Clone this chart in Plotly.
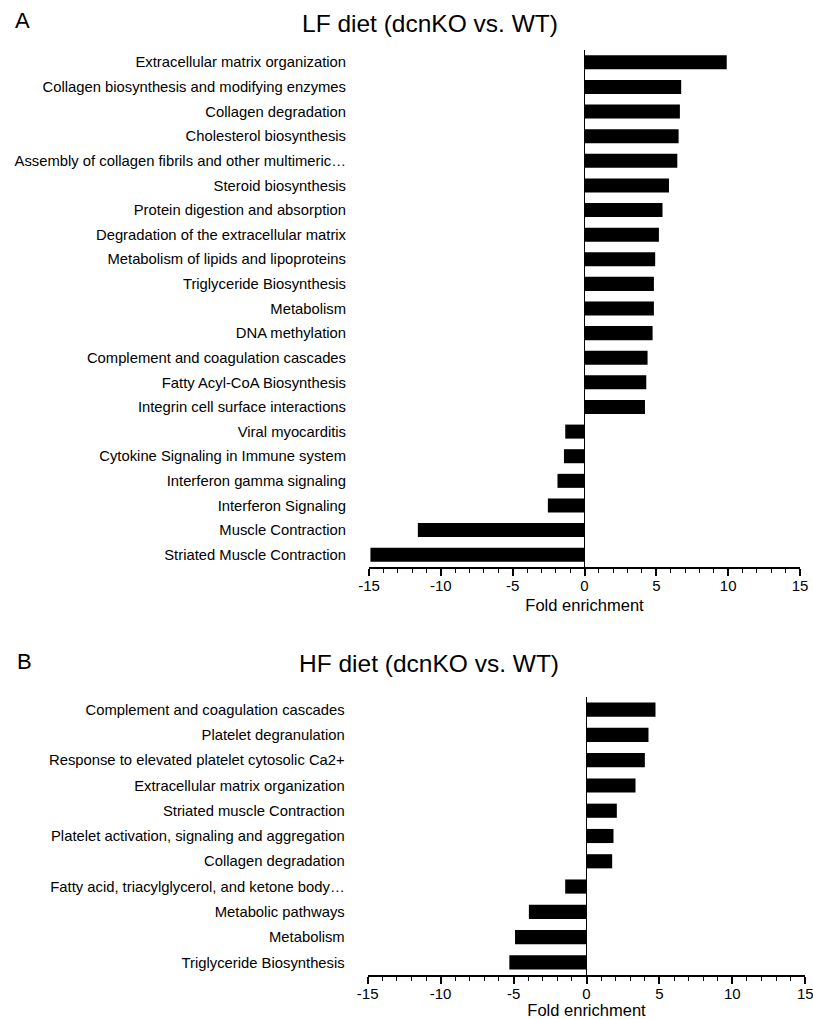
import plotly.graph_objects as go

W, H = 813, 1019

lf_terms = [
    "Extracellular matrix organization",
    "Collagen biosynthesis and modifying enzymes",
    "Collagen degradation",
    "Cholesterol biosynthesis",
    "Assembly of collagen fibrils and other multimeric…",
    "Steroid biosynthesis",
    "Protein digestion and absorption",
    "Degradation of the extracellular matrix",
    "Metabolism of lipids and lipoproteins",
    "Triglyceride Biosynthesis",
    "Metabolism",
    "DNA methylation",
    "Complement and coagulation cascades",
    "Fatty Acyl-CoA Biosynthesis",
    "Integrin cell surface interactions",
    "Viral myocarditis",
    "Cytokine Signaling in Immune system",
    "Interferon gamma signaling",
    "Interferon Signaling",
    "Muscle Contraction",
    "Striated Muscle Contraction",
]
lf_values = [9.9, 6.73, 6.64, 6.55, 6.46, 5.88, 5.43, 5.18, 4.92, 4.83, 4.83,
             4.74, 4.39, 4.30, 4.21, -1.34, -1.43, -1.88, -2.55, -11.6, -14.9]

hf_terms = [
    "Complement and coagulation cascades",
    "Platelet degranulation",
    "Response to elevated platelet cytosolic Ca2+",
    "Extracellular matrix organization",
    "Striated muscle Contraction",
    "Platelet activation, signaling and aggregation",
    "Collagen degradation",
    "Fatty acid, triacylglycerol, and ketone body…",
    "Metabolic pathways",
    "Metabolism",
    "Triglyceride Biosynthesis",
]
hf_values = [4.73, 4.25, 4.0, 3.36, 2.08, 1.85, 1.76, -1.46, -3.95, -4.9, -5.29]

x_ticks = [-15, -10, -5, 0, 5, 10, 15]
x_title = "Fold enrichment"
titles = ["LF diet (dcnKO vs. WT)", "HF diet (dcnKO vs. WT)"]
panel_letters = ["A", "B"]

FONT = "Arial, 'Liberation Sans', sans-serif"

fig = go.Figure()
fig.add_trace(go.Bar(x=lf_values, y=lf_terms, orientation="h", marker_color="black",
                     marker_line_width=0, width=0.57, xaxis="x", yaxis="y", showlegend=False))
fig.add_trace(go.Bar(x=hf_values, y=hf_terms, orientation="h", marker_color="black",
                     marker_line_width=0, width=0.56, xaxis="x2", yaxis="y2", showlegend=False))

def px_x(p):
    return p / W

def px_y(p):
    return 1 - p / H

xaxis_common = dict(
    range=[-15, 15], tickvals=x_ticks, ticktext=[str(v) for v in x_ticks],
    showline=True, linecolor="black", linewidth=1.6,
    ticks="outside", ticklen=7, tickwidth=1.5, tickcolor="black",
    minor=dict(dtick=1, ticks="outside", ticklen=4, tickwidth=1.2, tickcolor="black"),
    showgrid=False, zeroline=True, zerolinecolor="black", zerolinewidth=1.3,
    tickfont=dict(family=FONT, size=15, color="black"),
    ticklabelstandoff=-3, ticklabeloverflow="allow",
    title=dict(text=x_title, font=dict(family=FONT, size=16.5, color="black"), standoff=7),
    automargin=False, fixedrange=True,
)
yaxis_common = dict(
    showline=False, showgrid=False, zeroline=False, ticks="",
    tickfont=dict(family=FONT, size=14.8, color="black"),
    ticklabelstandoff=22, automargin=False, type="category", fixedrange=True,
)

fig.update_layout(
    width=W, height=H, template="none",
    paper_bgcolor="white", plot_bgcolor="white",
    margin=dict(l=0, r=0, t=0, b=0),
    bargap=0.43,
    xaxis=dict(domain=[px_x(369), px_x(800)], anchor="y", **xaxis_common),
    yaxis=dict(domain=[px_y(567), px_y(50)], anchor="x",
               range=[len(lf_terms) - 0.5, -0.5], **yaxis_common),
    xaxis2=dict(domain=[px_x(367.7), px_x(805.3)], anchor="y2", **xaxis_common),
    yaxis2=dict(domain=[px_y(975), px_y(697)], anchor="x2",
                range=[len(hf_terms) - 0.5, -0.5], **yaxis_common),
    font=dict(family=FONT, color="black"),
    hovermode=False,
)

ann = []
ann.append(dict(text=titles[0], x=px_x(430), y=px_y(23.5), xref="paper", yref="paper",
                xanchor="center", yanchor="middle", showarrow=False,
                font=dict(family=FONT, size=24.5, color="black")))
ann.append(dict(text=titles[1], x=px_x(429.5), y=px_y(663.5), xref="paper", yref="paper",
                xanchor="center", yanchor="middle", showarrow=False,
                font=dict(family=FONT, size=24.5, color="black")))
ann.append(dict(text=panel_letters[0], x=px_x(22.5), y=px_y(20.5), xref="paper", yref="paper",
                xanchor="center", yanchor="middle", showarrow=False,
                font=dict(family=FONT, size=22, color="black")))
ann.append(dict(text=panel_letters[1], x=px_x(24), y=px_y(661), xref="paper", yref="paper",
                xanchor="center", yanchor="middle", showarrow=False,
                font=dict(family=FONT, size=22, color="black")))
fig.update_layout(annotations=ann)

fig.write_html(
    "out.html",
    config={"displayModeBar": False},
    post_script="document.body.style.margin='0';document.body.style.overflow='hidden';",
)
